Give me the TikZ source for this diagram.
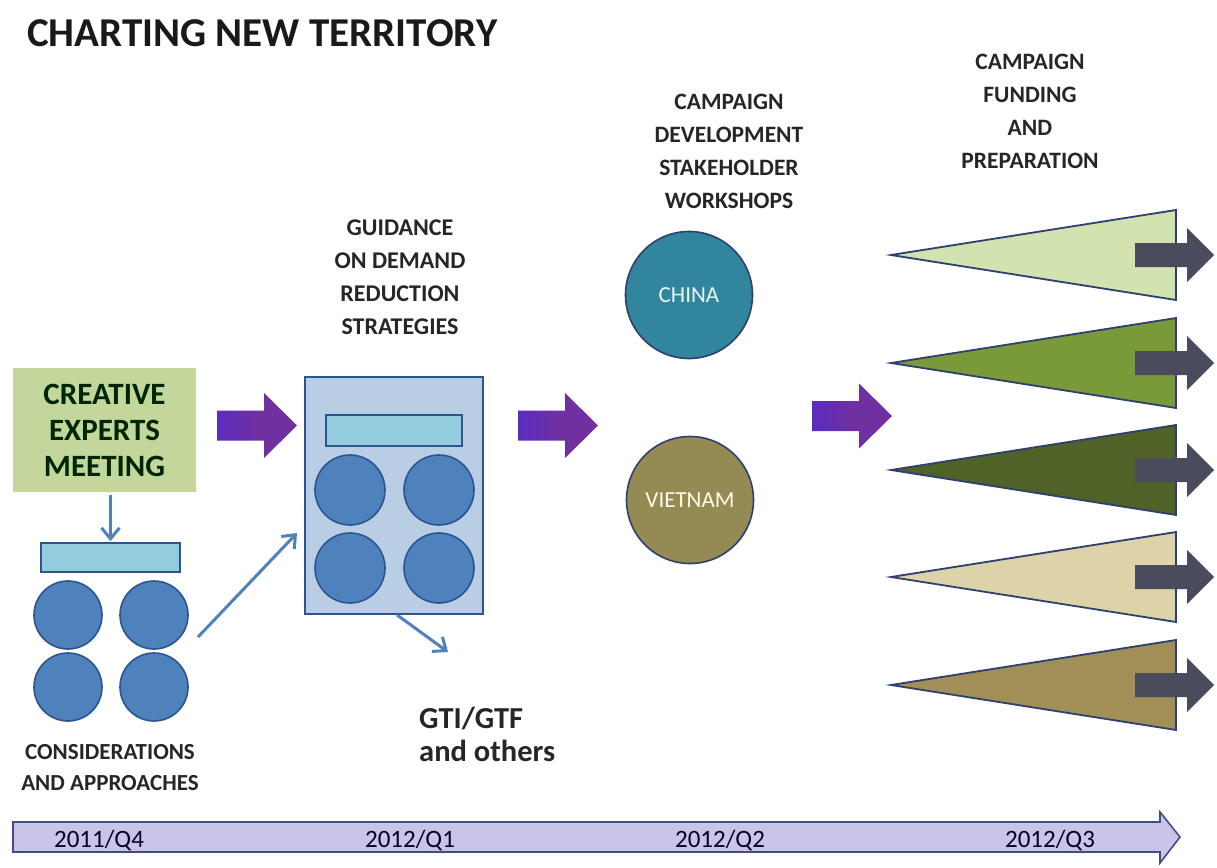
\documentclass[tikz,border=0pt]{standalone}
\usepackage{fontspec}
\setmainfont{Carlito}
\usetikzlibrary{arrows.meta,calc}
\definecolor{cemgreen}{HTML}{C3D69B}
\definecolor{barcyan}{HTML}{93CDDD}
\definecolor{boxblue}{HTML}{B9CDE5}
\definecolor{circblue}{HTML}{4F81BD}
\definecolor{circedge}{HTML}{2C5590}
\definecolor{chinateal}{HTML}{31859C}
\definecolor{vietolive}{HTML}{948A54}
\definecolor{purp}{HTML}{7030A0}
\definecolor{purp2}{HTML}{5A2CC0}
\definecolor{darkarrow}{HTML}{4B4B5E}
\definecolor{triedge}{HTML}{2F3F6F}
\definecolor{lav}{HTML}{CCC4E8}
\definecolor{lavedge}{HTML}{3F4F86}
\definecolor{txt}{HTML}{262626}
\definecolor{tA}{HTML}{D3E3B0}
\definecolor{tB}{HTML}{7A9A3A}
\definecolor{tC}{HTML}{4F6228}
\definecolor{tD}{HTML}{DCD4A8}
\definecolor{tE}{HTML}{A09058}
\begin{document}
\begin{tikzpicture}[x=1pt,y=-1pt,
  lbl/.style={align=center,font=\bfseries\fontsize{23.5}{33}\selectfont,text=txt,inner sep=0pt},
  dot/.style={circle,draw=circedge,line width=1.6pt,fill=circblue,minimum size=#1,inner sep=0pt},
  dot/.default=68,
  cyanbar/.style={rectangle,draw=circedge,line width=1.6pt,fill=barcyan,inner sep=0pt},
  thinarrow/.style={draw=circblue,line width=3pt,-{Straight Barb[length=11pt,width=18pt]}},
  purparrow/.style={left color=purp2,right color=purp,middle color=purp,draw=none},
  grayarrow/.style={fill=darkarrow,draw=none},
  tri/.style={draw=triedge,line width=1.8pt,line join=miter},
  country/.style={circle,draw=triedge,line width=1.6pt,minimum size=127,inner sep=0pt,text=white!90!cyan,font=\fontsize{23}{25}\selectfont}
]
\useasboundingbox (0,0) rectangle (1217,867);
\fill[white] (0,0) rectangle (1217,867);

% title
\node[anchor=west,font=\bfseries\fontsize{41}{45}\selectfont,text=black!90,inner sep=0pt] (title) at (27,33) {CHARTING NEW TERRITORY};

% creative experts meeting
\node[rectangle,fill=cemgreen,minimum width=183,minimum height=124,inner sep=0pt,align=center,
      font=\bfseries\fontsize{31}{36}\selectfont,text=black!85!green] (cem) at (104.5,430) {CREATIVE\\EXPERTS\\MEETING};
\node[cyanbar,minimum width=139,minimum height=29] (bar1) at (110.5,557.5) {};
\draw[thinarrow,shorten <=3pt,shorten >=1pt] (bar1.north |- cem.south) -- (bar1.north);
\node[dot] (c1) at (68,615) {};
\node[dot] (c2) at (154,615) {};
\node[dot] (c3) at (68,687) {};
\node[dot] (c4) at (154,687) {};
\node[lbl,font=\bfseries\fontsize{23}{31}\selectfont] (cons) at (110,768) {CONSIDERATIONS\\AND APPROACHES};

% guidance box
\node[rectangle,draw=circedge,line width=1.8pt,fill=boxblue,minimum width=178,minimum height=237,inner sep=0pt] (box) at (394,495.5) {};
\node[cyanbar,minimum width=136,minimum height=31] (bar2) at (394,430.5) {};
\node[dot=70] (d1) at (350,490) {};
\node[dot=70] (d2) at (439,490) {};
\node[dot=70] (d3) at (350,568) {};
\node[dot=70] (d4) at (439,568) {};
\node[lbl,font=\bfseries\fontsize{24}{33}\selectfont] (guid) at (400,277) {GUIDANCE\\ON DEMAND\\REDUCTION\\STRATEGIES};

\coordinate (a2s) at (198,637);
\coordinate (a2e) at (297,533);
\draw[thinarrow] (a2s) -- (a2e);

\coordinate (gtiend) at (448,652);
\draw[thinarrow] ($(box.south)+(3,0)$) -- (gtiend);
\node[anchor=west,align=left,font=\bfseries\fontsize{30.5}{33}\selectfont,text=txt,inner sep=0pt] (gti) at (419,734) {GTI/GTF\\and others};

% purple block arrows
\foreach \x/\y [count=\i] in {217/425.5,518/425.5,812/416}{
  \path[purparrow] (\x,\y-15) -- (\x+47,\y-15) -- (\x+47,\y-32.5) -- (\x+80,\y) -- (\x+47,\y+32.5) -- (\x+47,\y+15) -- (\x,\y+15) -- cycle;
}

% country workshops
\node[lbl] (camp) at (729,151) {CAMPAIGN\\DEVELOPMENT\\STAKEHOLDER\\WORKSHOPS};
\node[country,fill=chinateal] (china) at (689,295) {CHINA};
\node[country,fill=vietolive,text=white!92!yellow] (viet) at (690,500) {VIETNAM};

% funding
\node[lbl] (fund) at (1030,111) {CAMPAIGN\\FUNDING\\AND\\PREPARATION};

% triangles + dark arrows
\foreach \yc/\col [count=\i] in {255/tA,363/tB,470/tC,577/tD,685/tE}{
  \coordinate (tip\i) at (891,\yc);
  \draw[tri,fill=\col] (tip\i) -- (1176,\yc-45) -- (1176,\yc+45) -- cycle;
  \path[grayarrow] (1135,\yc-12) -- (1187,\yc-12) -- (1187,\yc-27) -- (1214,\yc) -- (1187,\yc+27) -- (1187,\yc+12) -- (1135,\yc+12) -- cycle;
}

% timeline
\draw[draw=lavedge,fill=lav,line width=1.6pt,line join=miter] (13,822) -- (1160,822) -- (1160,812) -- (1180,837) -- (1160,863) -- (1160,852) -- (13,852) -- cycle;
\foreach \x/\t in {99/{2011/Q4},410/{2012/Q1},720/{2012/Q2},1050/{2012/Q3}}{
  \node[font=\fontsize{25}{27}\selectfont,text=black!85!blue,inner sep=0pt] at (\x,840) {\t};
}
\end{tikzpicture}
\end{document}
